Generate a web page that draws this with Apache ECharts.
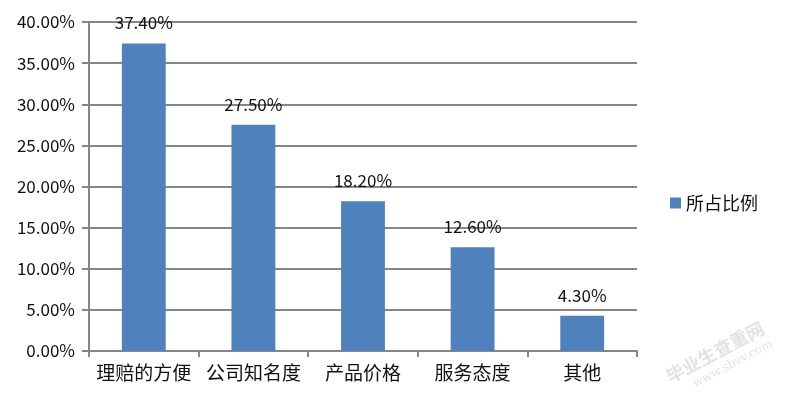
<!DOCTYPE html>
<html><head><meta charset="utf-8">
<script src="https://cdn.jsdelivr.net/npm/echarts@6/dist/echarts.min.js"></script>
<style>html,body{margin:0;padding:0;background:#fff}#c{width:785px;height:404px}</style>
</head><body><div id="c"></div>
<script>
const categories = ['理赔的方便','公司知名度','产品价格','服务态度','其他'];
const values = [37.4, 27.5, 18.2, 12.6, 4.3];
const seriesName = '所占比例';
const yMin = 0, yMax = 40, yInterval = 5;

const font = '"Noto Sans CJK SC", "Liberation Sans", sans-serif';
const chart = echarts.init(document.getElementById('c'));
chart.setOption({
  animation: false,
  backgroundColor: '#fff',
  grid: {left: 89, right: 148, top: 22, bottom: 53, containLabel: false},
  legend: {
    data: [seriesName], orient: 'vertical', left: 665, top: 189,
    icon: 'rect', itemWidth: 11, itemHeight: 11, itemGap: 8,
    textStyle: {fontFamily: font, fontSize: 18, color: '#111'}
  },
  xAxis: {
    type: 'category', data: categories, boundaryGap: true,
    axisLine: {lineStyle: {color: '#868686', width: 2}},
    axisTick: {show: true, interval: 0, length: 6, lineStyle: {color: '#868686', width: 2}},
    axisLabel: {interval: 0, fontFamily: font, fontSize: 19, color: '#111', margin: 12}
  },
  yAxis: {
    type: 'value', min: yMin, max: yMax, interval: yInterval,
    axisLine: {show: true, lineStyle: {color: '#868686', width: 2}},
    axisTick: {show: true, length: 7, lineStyle: {color: '#868686', width: 2}},
    splitLine: {lineStyle: {color: '#868686', width: 2}},
    axisLabel: {fontFamily: font, fontSize: 17, color: '#111', margin: 14,
      formatter: v => v.toFixed(2) + '%'}
  },
  series: [{
    name: seriesName, type: 'bar', data: values, barWidth: '40%',
    itemStyle: {color: '#4F81BD'},
    label: {show: true, position: 'top', distance: 12, fontFamily: font, fontSize: 17, color: '#111',
      formatter: p => p.value.toFixed(2) + '%'}
  }],
  graphic: [{
    type: 'group', x: 715, y: 352, rotation: 28 * Math.PI / 180,
    children: [
      {type: 'text', style: {text: '毕业生查重网', x: 0, y: 0, align: 'center', verticalAlign: 'middle',
        font: 'bold 18px "Noto Sans CJK SC"', fill: 'rgba(160,160,160,0.3)'}},
      {type: 'text', style: {text: 'www.sbvv.com', x: 10, y: 19, align: 'center', verticalAlign: 'middle',
        font: '12px "DejaVu Serif"', fill: 'rgba(160,160,160,0.3)'}}
    ]
  }]
});
</script></body></html>
